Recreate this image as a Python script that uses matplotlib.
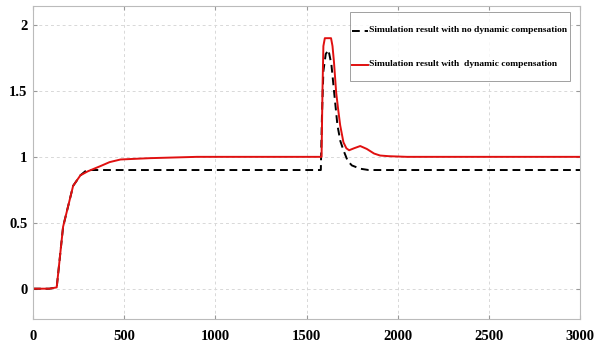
import matplotlib
import matplotlib.pyplot as plt

matplotlib.use("Agg")

# red: with dynamic compensation
t_comp = [0, 90, 130, 165, 220, 260, 300, 370, 420, 480, 640, 900, 1582,
          1587, 1592, 1600, 1634, 1642, 1650, 1662, 1673, 1684, 1702, 1718,
          1733, 1760, 1794, 1830, 1870, 1903, 1950, 2050, 3000]
y_comp = [0, 0, 0.01, 0.47, 0.78, 0.86, 0.89, 0.93, 0.96, 0.98, 0.99, 1.0, 1.0,
          1.5, 1.84, 1.9, 1.9, 1.84, 1.72, 1.49, 1.36, 1.24, 1.11, 1.065,
          1.05, 1.065, 1.082, 1.06, 1.025, 1.01, 1.005, 1.0, 1.0]

# black dashed: no dynamic compensation
t_nocomp = [0, 90, 130, 165, 220, 260, 295, 1578, 1584, 1592, 1605, 1620,
            1636, 1651, 1669, 1685, 1702, 1725, 1748, 1794, 1840, 3000]
y_nocomp = [0, 0, 0.01, 0.47, 0.78, 0.86, 0.9, 0.9, 1.3, 1.65, 1.78, 1.81,
            1.7, 1.49, 1.24, 1.12, 1.05, 0.97, 0.935, 0.91, 0.9, 0.9]

xticks = [0, 500, 1000, 1500, 2000, 2500, 3000]
yticks = [0, 0.5, 1, 1.5, 2]

plt.rcParams["font.family"] = "Liberation Serif"
plt.rcParams["font.weight"] = "bold"

fig = plt.figure(figsize=(6, 3.46), dpi=100)
ax = fig.add_axes([0.055, 0.078, 0.912, 0.905])

ax.plot(t_nocomp, y_nocomp, color="black", linestyle=(0, (4, 2.5)), lw=1.4,
        label="Simulation result with no dynamic compensation")
ax.plot(t_comp, y_comp, color="#e01010", lw=1.4,
        label="Simulation result with  dynamic compensation")

ax.set_xlim(0, 3000)
ax.set_ylim(-0.23, 2.145)
ax.set_xticks(xticks)
ax.set_yticks(yticks)
ax.set_xticklabels([str(v) for v in xticks])
ax.set_yticklabels(["0", "0.5", "1", "1.5", "2"])
ax.tick_params(direction="in", length=3, color="#999999", labelsize=10.5,
               top=True, right=True)
ax.tick_params(axis="x", pad=8)
ax.tick_params(axis="y", pad=4)
ax.grid(True, color="#d8d8d8", linestyle=(0, (3, 3)), lw=0.7)
for s in ax.spines.values():
    s.set_color("#bbbbbb")
    s.set_linewidth(0.8)

leg = ax.legend(loc="upper right", bbox_to_anchor=(0.982, 0.979),
                borderaxespad=0, fancybox=False, handlelength=1.7,
                handleheight=4.3, labelspacing=0.55, handletextpad=0.1,
                borderpad=0.3,
                prop={"family": "Liberation Serif", "weight": "bold", "size": 6.8})
leg.get_frame().set_edgecolor("#888888")
leg.get_frame().set_linewidth(0.7)
# tall handle boxes put the line above the text; move it down to the text
for ln in leg.get_lines():
    ln.set_ydata([v - 5 for v in ln.get_ydata()])

fig.savefig("out.png", dpi=100)
